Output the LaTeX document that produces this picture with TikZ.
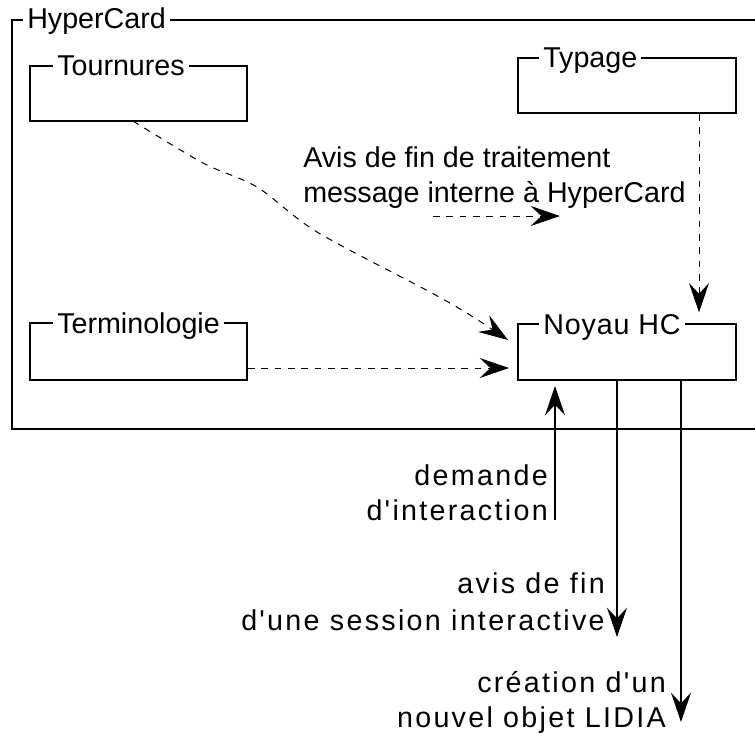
\documentclass[tikz,border=0pt]{standalone}
\usepackage{fontspec}
\setmainfont{Liberation Sans}
\newfontfamily\widefont{Liberation Sans}[LetterSpace=8]
\newfontfamily\midfont{Liberation Sans}[LetterSpace=3]
\usetikzlibrary{arrows.meta}
\newcommand\dgfs{\fontsize{21.5pt}{26pt}\selectfont}
\begin{document}
\begin{tikzpicture}[x=0.75pt,y=-0.75pt,
  frame/.style={line width=1pt},
  box/.style={draw, line width=1.5pt, rectangle, inner sep=0pt},
  ttl/.style={fill=white, inner xsep=3pt, inner ysep=0pt, anchor=base west, font=\dgfs},
  lbl/.style={inner sep=0pt, font=\dgfs},
  wlbl/.style={inner sep=0pt, font=\dgfs\widefont, anchor=base east},
  tipstyle/.style={-{Stealth[length=22pt, width=15pt, inset=8pt]}},
  dconn/.style={tipstyle, line width=0.75pt, dash pattern=on 5pt off 5pt},
  sconn/.style={tipstyle, line width=0.8pt},
  sline/.style={line width=0.8pt}]
\useasboundingbox (0,0) rectangle (755,733);

% outer HyperCard frame
\draw[frame] (755,20) -- (12,20) -- (12,429) -- (755,429);

% boxes
\node[box, minimum width=162.75pt, minimum height=41.25pt] (tour) at (138.5,93.5) {};
\node[box, minimum width=163.5pt, minimum height=41.25pt] (typ) at (627,85.5) {};
\node[box, minimum width=162.75pt, minimum height=42.75pt] (term) at (138.5,351.5) {};
\node[box, minimum width=163.5pt, minimum height=42pt] (noy) at (627,352) {};

% titles
\node[ttl] (hcT) at (23,28) {HyperCard};
\node[ttl] (tourT) at (53,75) {Tournures};
\node[ttl] (typT) at (539,67) {Typage};
\node[ttl] (termT) at (53,333) {Terminologie};
\node[ttl, font=\dgfs\midfont] (noyT) at (539,334) {Noyau HC};

% free text
\node[lbl, anchor=base west] (avis1) at (303,167) {Avis de fin de traitement};
\node[lbl, anchor=base west] (avis2) at (303,202) {message interne à HyperCard};
\node[wlbl] (dem1) at (548,485) {demande};
\node[wlbl] (dem2) at (548,520) {d'interaction};
\node[wlbl] (fin1) at (605,593) {avis de fin};
\node[wlbl] (fin2) at (605,630) {d'une session interactive};
\node[wlbl] (cre1) at (666,692) {création d'un};
\node[wlbl] (cre2) at (666,727) {nouvel objet LIDIA};

% helper coordinates
\coordinate (ts) at (133,121);
\coordinate (te) at (508,340);
\coordinate (tx) at (699,0);
\coordinate (ty) at (0,368);
\coordinate (m1) at (433,216);
\coordinate (m2) at (560,216);
\coordinate (dq) at (555,520);
\coordinate (a1) at (617,637);
\coordinate (a2) at (681,722);

% dashed connectors
\draw[dconn] plot[smooth, tension=0.5] coordinates {(ts) (203,163) (257,187) (317,232) (430,292) (470,315) (te)};
\draw[dconn] (typ.south -| tx) -- ([yshift=8pt]noy.north -| tx);
\draw[dconn] (term.east |- ty) -- ([xshift=-6pt]noy.west |- ty);
\draw[dconn] (m1) -- (m2);

% solid connectors
\draw[sconn] (dq) -- ([yshift=-3.75pt]noy.south -| dq);
\draw[sconn] (noy.south -| a1) -- (a1);
\draw[sconn] (noy.south -| a2) -- (a2);
\end{tikzpicture}
\end{document}
